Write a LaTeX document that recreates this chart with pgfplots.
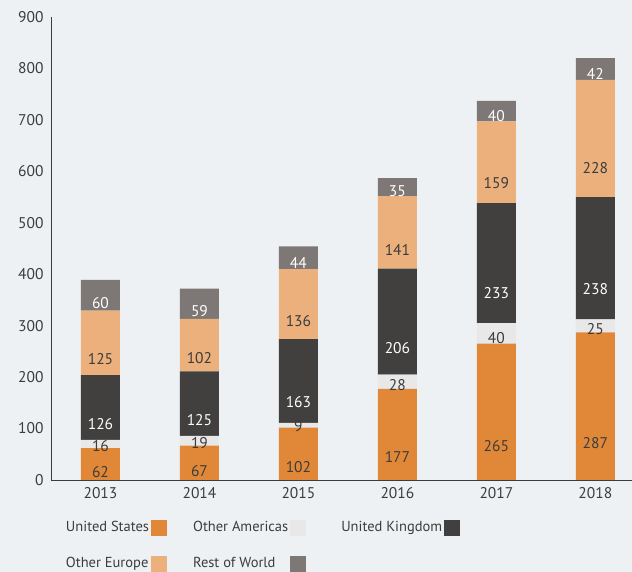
\documentclass[border=0pt]{standalone}
\usepackage{pgfplots}
\pgfplotsset{compat=1.18}
\usepackage{fontspec}
\setmainfont{PT Sans}
\definecolor{bg}{HTML}{EDF1F3}
\definecolor{cUS}{HTML}{E08838}
\definecolor{cOA}{HTML}{E8E8E8}
\definecolor{cUK}{HTML}{41403E}
\definecolor{cOE}{HTML}{EBB07C}
\definecolor{cRW}{HTML}{7D7775}
\definecolor{txt}{HTML}{3C3C3C}
\newcommand{\chartfont}{\fontsize{14.5}{17}\selectfont}
\newcommand{\numfont}{\fontsize{15.5}{18}\selectfont}
\begin{document}
\begin{tikzpicture}
\fill[bg] (0,0) rectangle (632pt,572pt);
\begin{axis}[
  at={(51pt,92pt)}, anchor=south west,
  scale only axis, width=581pt, height=463pt,
  xmin=2012.5, xmax=2018.37,
  ymin=0, ymax=900,
  ybar stacked, bar width=39pt,
  axis x line*=bottom, axis y line*=left,
  axis line style={color=txt, line width=0.8pt, -},
  major tick length=0pt,
  xtick={2013,2014,2015,2016,2017,2018},
  xticklabels={2013,2014,2015,2016,2017,2018},
  ytick={0,100,...,900},
  /pgf/number format/assume math mode=true,
  tick label style={font=\numfont, text=txt},
  yticklabel style={xshift=-4pt},
  xticklabel style={yshift=-4pt},
  visualization depends on={rawy \as \rawy},
  nodes near coords={\pgfmathprintnumber{\rawy}},
  every node near coord/.append style={anchor=center, yshift={-0.12861*\rawy}, font=\numfont, text=txt},
  legend columns=3,
  legend plot pos=right,
  legend cell align=left,
  legend image code/.code={\fill[#1] (3pt,-8pt) rectangle (19pt,8pt);},
  legend style={at={(0.022,-0.085)}, anchor=north west, draw=none, fill=none,
    font=\chartfont, text=txt, inner sep=0pt,
    /tikz/row sep=20pt,
    /tikz/column 2/.style={column sep=24pt},
    /tikz/column 4/.style={column sep=33pt}},
]
\addplot[fill=cUS, draw=none] coordinates {(2013,62) (2014,67) (2015,102) (2016,177) (2017,265) (2018,287)};
\addlegendentry{United States}
\addplot[fill=cOA, draw=none] coordinates {(2013,16) (2014,19) (2015,9) (2016,28) (2017,40) (2018,25)};
\addlegendentry{Other Americas}
\addplot[fill=cUK, draw=none, every node near coord/.append style={text=white}] coordinates {(2013,126) (2014,125) (2015,163) (2016,206) (2017,233) (2018,238)};
\addlegendentry{United Kingdom}
\addplot[fill=cOE, draw=none] coordinates {(2013,125) (2014,102) (2015,136) (2016,141) (2017,159) (2018,228)};
\addlegendentry{Other Europe}
\addplot[fill=cRW, draw=none, every node near coord/.append style={text=white}] coordinates {(2013,60) (2014,59) (2015,44) (2016,35) (2017,40) (2018,42)};
\addlegendentry{Rest of World}
\end{axis}
\pgfresetboundingbox
\useasboundingbox (0,0) rectangle (632pt,572pt);
\end{tikzpicture}
\end{document}
